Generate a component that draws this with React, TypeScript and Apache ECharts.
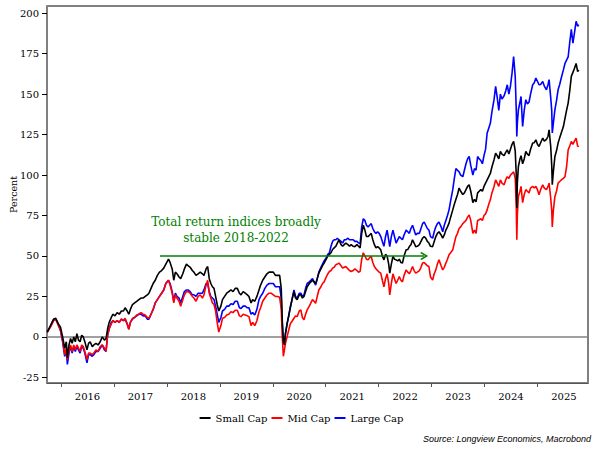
import React, { useEffect, useRef } from "react";
import * as echarts from "echarts";

// Decimal-year dates of the sampled points
const dates = [
  2015.74, 2015.80, 2015.86, 2015.90, 2015.95, 2015.99, 2016.03, 2016.07, 2016.10, 2016.12,
  2016.15, 2016.18, 2016.21, 2016.24, 2016.27, 2016.30, 2016.33, 2016.36, 2016.39, 2016.42,
  2016.45, 2016.49, 2016.52, 2016.55, 2016.59, 2016.62, 2016.66, 2016.70, 2016.74, 2016.78,
  2016.82, 2016.85, 2016.88, 2016.91, 2016.95, 2016.98, 2017.02, 2017.06, 2017.10, 2017.14,
  2017.18, 2017.21, 2017.25, 2017.28, 2017.31, 2017.35, 2017.39, 2017.43, 2017.47, 2017.51,
  2017.55, 2017.59, 2017.63, 2017.66, 2017.70, 2017.74, 2017.78, 2017.82, 2017.86, 2017.90,
  2017.94, 2017.98, 2018.03, 2018.06, 2018.10, 2018.13, 2018.16, 2018.19, 2018.23, 2018.26,
  2018.30, 2018.33, 2018.37, 2018.40, 2018.44, 2018.48, 2018.51, 2018.55, 2018.59, 2018.63,
  2018.67, 2018.70, 2018.74, 2018.77, 2018.80, 2018.83, 2018.86, 2018.89, 2018.92, 2018.95,
  2018.98, 2019.02, 2019.05, 2019.09, 2019.13, 2019.17, 2019.21, 2019.25, 2019.29, 2019.33,
  2019.37, 2019.40, 2019.44, 2019.48, 2019.52, 2019.55, 2019.59, 2019.62, 2019.66, 2019.70,
  2019.74, 2019.77, 2019.81, 2019.85, 2019.89, 2019.93, 2019.97, 2020.01, 2020.05, 2020.09,
  2020.13, 2020.16, 2020.18, 2020.20, 2020.22, 2020.24, 2020.27, 2020.30, 2020.33, 2020.37,
  2020.40, 2020.43, 2020.46, 2020.50, 2020.53, 2020.56, 2020.59, 2020.62, 2020.65, 2020.69,
  2020.72, 2020.75, 2020.78, 2020.81, 2020.84, 2020.87, 2020.91, 2020.94, 2020.97, 2021.01,
  2021.04, 2021.07, 2021.10, 2021.13, 2021.16, 2021.19, 2021.22, 2021.25, 2021.29, 2021.32,
  2021.35, 2021.38, 2021.42, 2021.45, 2021.48, 2021.52, 2021.55, 2021.59, 2021.62, 2021.65,
  2021.68, 2021.71, 2021.74, 2021.77, 2021.80, 2021.83, 2021.86, 2021.89, 2021.92, 2021.95,
  2021.98, 2022.01, 2022.04, 2022.07, 2022.10, 2022.13, 2022.16, 2022.19, 2022.21, 2022.24,
  2022.27, 2022.30, 2022.33, 2022.36, 2022.39, 2022.42, 2022.45, 2022.48, 2022.52, 2022.55,
  2022.58, 2022.61, 2022.64, 2022.67, 2022.70, 2022.73, 2022.77, 2022.80, 2022.83, 2022.86,
  2022.89, 2022.92, 2022.95, 2022.98, 2023.02, 2023.05, 2023.08, 2023.11, 2023.14, 2023.18,
  2023.21, 2023.24, 2023.27, 2023.30, 2023.33, 2023.36, 2023.40, 2023.43, 2023.46, 2023.49,
  2023.52, 2023.55, 2023.59, 2023.62, 2023.65, 2023.68, 2023.71, 2023.74, 2023.78, 2023.81,
  2023.84, 2023.87, 2023.90, 2023.93, 2023.96, 2023.99, 2024.02, 2024.05, 2024.08, 2024.11,
  2024.14, 2024.18, 2024.21, 2024.24, 2024.27, 2024.30, 2024.33, 2024.37, 2024.40, 2024.43,
  2024.46, 2024.49, 2024.52, 2024.55, 2024.58, 2024.60, 2024.61, 2024.62, 2024.64, 2024.67,
  2024.69, 2024.72, 2024.75, 2024.78, 2024.81, 2024.84, 2024.87, 2024.91, 2024.94, 2024.97,
  2025.00, 2025.03, 2025.06, 2025.10, 2025.13, 2025.17, 2025.20, 2025.22, 2025.25, 2025.27,
  2025.28, 2025.30, 2025.33, 2025.36, 2025.39, 2025.42, 2025.45, 2025.49, 2025.52, 2025.55,
  2025.58, 2025.61, 2025.64, 2025.67, 2025.70, 2025.73, 2025.76, 2025.78,
];

const smallCap = [
  3, 7, 11, 11.5, 8, 6, 0, -7, -3, -13,
  -5, -1, -4, 0, -3, 2, -2, -3, 1, 0,
  -3, -8, -4, -3, -6, -5, -4, -5, -3, 0,
  -2, -1, 5, 9, 12, 14, 13, 15, 14, 16,
  16, 18, 16, 14, 17, 20, 21, 22, 23, 24,
  24, 25, 26, 27, 30, 33, 35, 38, 40, 41,
  42.5, 45, 48, 46, 42, 35, 40, 39, 37, 36,
  39, 42, 45, 44, 43, 41, 40, 38, 39, 40,
  39, 38, 42, 43.5, 36, 33, 31, 30, 25, 20,
  16, 19, 23, 25, 27, 28, 29, 28, 30, 30,
  27, 26, 28, 27, 26, 25, 21, 23, 22, 25,
  29, 32, 35, 37, 39, 40, 40, 40, 38, 38,
  38, 30, 10, -3, -5, 2, 8, 12.6, 18, 24,
  28, 24, 23, 26, 26, 24, 25, 28, 31, 33,
  34, 35, 34, 33, 36, 39.4, 42, 44, 45.6, 48,
  50, 51, 52, 54, 55, 56, 58, 60, 57, 56,
  57, 58, 57, 56, 57, 56, 55.8, 57, 56, 55,
  64, 69, 66, 62, 62, 63, 64, 60, 57, 55,
  55.8, 55, 53.8, 50, 47.6, 51, 50, 45, 39.4, 45,
  49.7, 48, 47.6, 47, 48, 46, 45.6, 50, 53.8, 54,
  55.8, 57, 60, 58, 55.8, 56, 57, 59, 61, 62,
  61, 59, 58, 56, 55.8, 59, 62, 64, 65, 63,
  61, 63, 66, 68, 70.3, 74, 78.5, 82, 85, 88,
  92, 90, 88, 89, 91, 93, 94, 90, 83, 85,
  83.5, 89, 90, 91, 90, 93, 95, 97, 99, 101,
  105, 109.5, 113.6, 112, 110, 114.6, 113, 112, 114, 115.6,
  113, 116, 119, 120.8, 115, 100, 79.6, 95, 105.3, 110,
  112, 107, 110, 114.6, 113, 112, 116, 119.8, 120, 121.8,
  119, 117.7, 120, 122.9, 121, 122, 124, 128, 118, 106,
  94, 102, 111.5, 115, 119.8, 123, 126, 130, 135, 140,
  144.5, 152, 161, 163.5, 166, 169, 164, 165,
];

const midCap = [
  3, 6, 10, 11, 7, 4, -2, -11, -7, -14,
  -9, -5, -9, -5, -8, -5, -7, -9, -5, -6,
  -9, -14, -10, -10, -11, -10, -8, -9, -6, -5,
  -7, -9, 1, 5, 8, 10, 9, 10, 9, 11,
  10, 11.5, 8, 4.5, 9, 11.5, 12, 13.5, 14, 15,
  14, 13.5, 12, 11.5, 14, 17, 21, 23, 25, 27,
  29, 33, 35, 32, 27, 21, 26, 24, 22, 19,
  23, 26, 28, 28, 27, 25, 24, 22, 25, 26,
  24, 26, 32, 35, 27, 24, 21, 20, 16, 9,
  3, 7, 11.5, 12, 13.5, 14, 15.5, 15, 16.5, 16.5,
  13, 12.5, 14, 13.5, 13, 12.5, 7, 9, 7, 10,
  15.5, 18, 22, 24, 26, 27, 27, 26, 25, 25,
  24.5, 17, 0, -12, -8, -4, 0, 4, 8, 10,
  11.5, 13, 12.5, 16, 16.7, 12, 10.5, 14, 16.7, 19,
  21, 23, 22, 20.8, 25, 29, 31, 33, 34, 37,
  39, 40.4, 41, 42.5, 43, 44.5, 45, 45.6, 44, 42.5,
  43, 43.5, 42, 41, 40.4, 41, 42, 41, 40, 40.5,
  48, 52, 50, 48, 47.6, 49, 49.7, 46, 43.5, 42,
  41, 40, 39.4, 35, 31, 36, 39, 33, 26, 33,
  39, 36, 33, 35, 37.3, 35, 34, 38, 41.4, 40,
  39, 41, 43.5, 41, 39.4, 40, 41, 43, 45.6, 46,
  45, 44, 43.5, 37, 35.2, 39, 41.4, 45, 47.6, 44,
  41.4, 43, 45.6, 48, 50.7, 52, 53.8, 58, 62, 64,
  67, 68, 70, 71, 72, 74, 75.4, 72, 64, 66,
  64, 72, 72.4, 73, 72, 75, 76, 78.5, 82, 84.7,
  89, 93, 97, 95, 93, 97, 95, 94, 97, 99,
  98, 100, 101, 102, 98, 80, 60, 75, 86.8, 90,
  93, 83, 88, 91, 90, 89, 92, 93, 92, 93,
  91, 87.8, 91, 94, 92, 91, 93, 95, 86, 78,
  68, 78, 86.8, 90, 95, 96, 97, 98, 99, 105,
  115.6, 118, 120.8, 119, 121, 122.9, 117.7, 118,
];

const largeCap = [
  3, 6.5, 10.5, 11, 7.5, 4, -3, -12, -8, -17,
  -10, -6, -10, -6, -9, -6, -8, -10, -6, -7,
  -10, -16, -11, -11, -12, -11, -9, -9, -7, -5,
  -8, -9, 1, 5, 9, 10, 9, 10, 9, 11,
  10, 11, 8, 5, 9, 11, 12, 13, 14, 14,
  13, 13, 11, 11, 14, 17, 21, 23, 25, 27,
  29, 33, 35, 33, 28, 22, 27, 25, 24, 21,
  25, 28, 29, 29, 28, 26, 26, 25, 27, 27,
  27, 29, 33, 33, 28, 25, 24, 23, 19, 14,
  9, 12, 16, 17, 19, 19, 20.5, 20, 22, 22,
  18, 17.5, 19, 19, 18, 18, 14, 15, 13.5, 17,
  23, 25, 27, 30, 32, 33, 33, 33, 31, 31,
  31, 24, 8, -3, -4, 2, 8, 13, 18, 24,
  29, 25, 24, 27, 27, 25, 26, 30, 33, 34,
  35, 36, 34, 32, 36, 40, 43, 45, 47, 49,
  51, 52, 56, 59, 60, 60, 61, 60, 59, 58,
  60, 60, 61, 60, 60, 60, 59, 59, 58, 57.7,
  68, 73, 72, 69, 68, 69, 70, 67, 65, 64,
  65, 64, 62, 59, 56, 62, 66, 60, 55.8, 62,
  66, 62, 58, 60, 62, 61, 60, 63, 66, 65,
  64, 67, 69, 66, 63, 64, 64, 67, 70, 71,
  69, 67, 66, 62, 61, 65, 68, 70, 71, 68,
  65, 69, 72, 75, 78.5, 84, 91, 98, 104, 103,
  102, 100, 99, 103, 107, 110, 111.5, 106, 100, 104,
  103, 111.5, 110, 109, 107, 112, 116, 126, 129, 132,
  139, 146.6, 154.8, 148, 140, 150, 147, 149, 152, 155.8,
  150, 155, 163, 173.3, 161, 140, 123.9, 132, 140.4, 145,
  148.6, 130, 140, 146.6, 144, 145, 150, 155.8, 157, 160,
  158, 155.8, 156, 157.9, 155, 152.7, 156, 159, 148, 140,
  126, 132, 140.4, 146, 152.7, 156, 160, 165, 169, 171,
  173, 182, 190, 181.6, 188, 195, 192, 193,
];

const yTicks = [-25, 0, 25, 50, 75, 100, 125, 150, 175, 200];
const yearTicks = [2016, 2017, 2018, 2019, 2020, 2021, 2022, 2023, 2024, 2025];
const yearLabelPositions = yearTicks.map((y) => y + 0.5);
const seriesNames = ["Small Cap", "Mid Cap", "Large Cap"];
const annotationText = "Total return indices broadly\nstable 2018-2022";
const annotationLevel = 50;
const annotationStart = 2017.87;
const annotationEnd = 2022.86;
const sourceText = "Source: Longview Economics, Macrobond";

export default function App() {
  const ref = useRef<HTMLDivElement>(null);

  useEffect(() => {
    document.body.style.margin = "0";
    const chart = echarts.init(ref.current!, null, { renderer: "svg" });
    const serif = "'DejaVu Serif', serif";
    const toData = (vals: number[]) => dates.map((t, i) => [t, vals[i]]);
    const lineSeries = (name: string, vals: number[], color: string) => ({
      name,
      type: "line",
      data: toData(vals),
      symbol: "none",
      showSymbol: false,
      lineStyle: { color, width: 1.6 },
      itemStyle: { color },
      emphasis: { disabled: true },
      silent: true,
    });

    const large: any = lineSeries(seriesNames[2], largeCap, "#0000ff");
    large.markLine = {
      silent: true,
      z: 1,
      symbol: "none",
      label: { show: false },
      lineStyle: { color: "#808080", width: 1.6, type: "solid" },
      data: [{ yAxis: 0 }],
    };
    const mid: any = lineSeries(seriesNames[1], midCap, "#ff0000");
    const small: any = lineSeries(seriesNames[0], smallCap, "#000000");
    small.markLine = {
      silent: true,
      z: 6,
      symbol: ["none", "path://M5,0 L10,8 L8.8,9.6 L5,3.6 L1.2,9.6 L0,8 Z"],
      symbolSize: 8,
      label: { show: false },
      lineStyle: { color: "#008000", width: 1.5, type: "solid" },
      itemStyle: { color: "#008000" },
      data: [[{ coord: [annotationStart, annotationLevel] }, { coord: [annotationEnd, annotationLevel] }]],
    };

    chart.setOption({
      animation: false,
      grid: {
        left: 47,
        right: 15,
        top: 6,
        bottom: 71,
        containLabel: false,
        outerBoundsMode: "none",
        show: true,
        borderColor: "#000",
        borderWidth: 1,
        backgroundColor: "transparent",
      },
      xAxis: {
        type: "value",
        min: 2015.735,
        max: 2025.955,
        axisLine: { show: true, onZero: false, lineStyle: { color: "#555", width: 1 } },
        axisTick: { show: true, customValues: yearTicks, length: 4, lineStyle: { color: "#555" } },
        axisLabel: {
          customValues: yearLabelPositions,
          formatter: (v: number) => String(Math.floor(v)),
          fontFamily: serif,
          fontSize: 10,
          color: "#000",
          margin: 8,
        },
        splitLine: { show: false },
      },
      yAxis: [
        {
          type: "value",
          min: -28.5,
          max: 204.5,
          position: "left",
          name: "Percent",
          nameLocation: "middle",
          nameGap: 29,
          nameMoveOverlap: false,
          nameTextStyle: { fontFamily: serif, fontSize: 9.5, color: "#000" },
          axisLine: { show: true, lineStyle: { color: "#808080", width: 2 } },
          axisTick: { show: true, customValues: yTicks, length: 5, lineStyle: { color: "#000" } },
          axisLabel: { customValues: yTicks, fontFamily: serif, fontSize: 10, color: "#000", margin: 8 },
          splitLine: { show: false },
        },
        {
          type: "value",
          min: -28.5,
          max: 204.5,
          position: "right",
          axisLine: { show: true, onZero: false, lineStyle: { color: "#808080", width: 2 } },
          axisTick: { show: false },
          axisLabel: { show: false },
          splitLine: { show: false },
        },
      ],
      legend: {
        data: seriesNames,
        left: "center",
        top: 413,
        padding: 0,
        icon: "rect",
        itemWidth: 11,
        itemHeight: 2,
        itemGap: 4,
        selectedMode: false,
        textStyle: { fontFamily: serif, fontSize: 10, color: "#000" },
      },
      graphic: [
        {
          type: "text",
          x: 236,
          y: 214,
          silent: true,
          style: {
            text: annotationText,
            fill: "#008000",
            font: "12px 'DejaVu Serif'",
            align: "center",
            verticalAlign: "top",
            lineHeight: 16,
          },
        },
        {
          type: "text",
          x: 591,
          y: 439,
          silent: true,
          style: {
            text: sourceText,
            fill: "#000",
            font: "italic 9px 'Liberation Sans'",
            align: "right",
            verticalAlign: "middle",
          },
        },
      ],
      series: [large, mid, small],
    });

    return () => chart.dispose();
  }, []);

  return <div ref={ref} style={{ width: 603, height: 454 }} />;
}
